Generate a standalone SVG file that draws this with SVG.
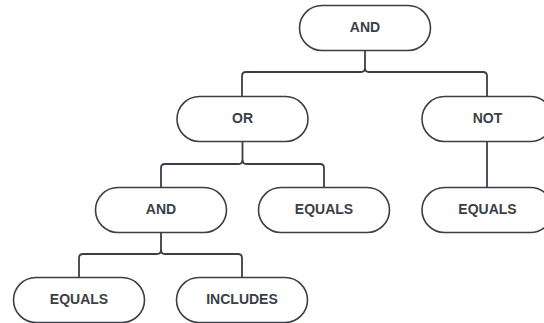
<svg xmlns="http://www.w3.org/2000/svg" width="544" height="323" viewBox="0 0 544 323">
<style>
.n{fill:#fff;stroke:#3a3f47;stroke-width:1.6}
.t{font-family:"Liberation Sans",Arial,sans-serif;font-weight:bold;font-size:14px;fill:#3a3f47;text-anchor:middle;dominant-baseline:central}
.c{fill:none;stroke:#3a3f47;stroke-width:1.8}
</style>
<rect width="544" height="323" fill="#fff"/>
<g id="connectors">
<path class="c" d="M365 50.5V68Q365 72 361 72H246Q242 72 242 76V96.5"/>
<path class="c" d="M365 68Q365 72 369 72H483Q487 72 487 76V96.5"/>
<path class="c" d="M242.5 141.5V160Q242.5 164 238.5 164H165Q161 164 161 168V187.5"/>
<path class="c" d="M242.5 160Q242.5 164 246.5 164H320Q324 164 324 168V187.5"/>
<path class="c" d="M487 141.5V187.5"/>
<path class="c" d="M161 232.5V250Q161 254 157 254H83Q79 254 79 258V277.5"/>
<path class="c" d="M161 250Q161 254 165 254H238Q242 254 242 258V277.5"/>
</g>
<g id="and1"><rect class="n" x="299.5" y="5.5" width="131" height="45" rx="22.5"/><text class="t" x="365" y="27">AND</text></g>
<g id="or"><rect class="n" x="177" y="96.5" width="131" height="45" rx="22.5"/><text class="t" x="242.5" y="118">OR</text></g>
<g id="not"><rect class="n" x="422" y="96.5" width="131" height="45" rx="22.5"/><text class="t" x="487.5" y="118">NOT</text></g>
<g id="and2"><rect class="n" x="95.5" y="187.5" width="131" height="45" rx="22.5"/><text class="t" x="161" y="209">AND</text></g>
<g id="equals1"><rect class="n" x="258.5" y="187.5" width="131" height="45" rx="22.5"/><text class="t" x="324" y="209">EQUALS</text></g>
<g id="equals2"><rect class="n" x="422" y="187.5" width="131" height="45" rx="22.5"/><text class="t" x="487.5" y="209">EQUALS</text></g>
<g id="equals3"><rect class="n" x="13.5" y="277.5" width="131" height="45" rx="22.5"/><text class="t" x="79" y="299">EQUALS</text></g>
<g id="includes"><rect class="n" x="176.5" y="277.5" width="131" height="45" rx="22.5"/><text class="t" x="242" y="299">INCLUDES</text></g>
</svg>
